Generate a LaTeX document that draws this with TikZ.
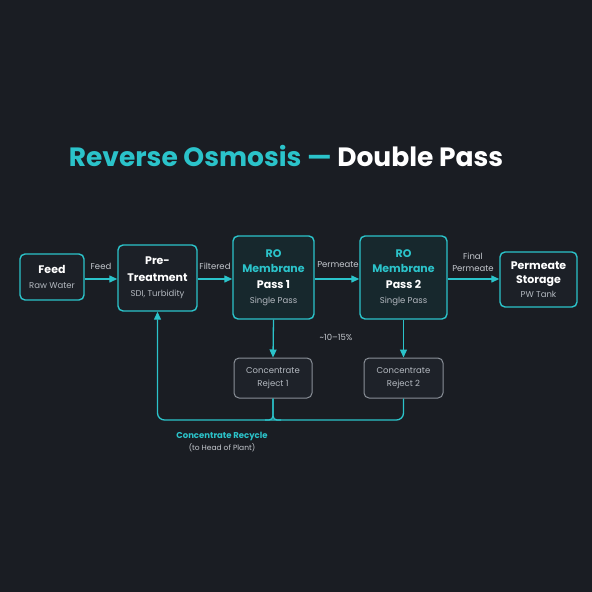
\documentclass[tikz,border=0pt]{standalone}
\usepackage{fontspec}
\setmainfont{Poppins}
\usetikzlibrary{arrows.meta,calc}
\definecolor{bg}{HTML}{1A1D23}
\definecolor{cy}{HTML}{2BC3CA}
\definecolor{boxfill}{HTML}{1C2027}
\definecolor{rofill}{HTML}{17282D}
\definecolor{rejfill}{HTML}{1E2229}
\definecolor{rejline}{HTML}{8A9098}
\definecolor{subt}{HTML}{B4B9C0}
\definecolor{lab}{HTML}{C4C8CE}
\tikzset{
  box/.style={draw=cy, line width=1.4pt, fill=boxfill, rounded corners=5pt, align=center, inner sep=0pt, font=\fontsize{11}{15}\selectfont},
  robox/.style={box, fill=rofill, font=\fontsize{11}{15.5}\selectfont},
  rejbox/.style={draw=rejline, line width=1pt, fill=rejfill, rounded corners=5pt, align=center, inner sep=0pt, text=subt, font=\fontsize{8.5}{13}\selectfont},
  flow/.style={draw=cy, line width=1.3pt, -{Triangle[length=8pt,width=7pt]}},
  line/.style={draw=cy, line width=1.3pt},
  elab/.style={text=lab, font=\fontsize{8.5}{12}\selectfont, inner sep=0pt, align=center},
}
\newcommand{\ttl}[1]{{\bfseries\color{white}#1}}
\newcommand{\cttl}[1]{{\bfseries\color{cy}#1}}
\newcommand{\sub}[1]{{\fontsize{8.5}{10}\selectfont\color{subt}#1}}
\begin{document}
\begin{tikzpicture}[x=1pt,y=-1pt]
\fill[bg] (0,0) rectangle (592,592);
\useasboundingbox (0,0) rectangle (592,592);
\node[font=\fontsize{26.5}{29}\selectfont\bfseries, inner sep=0pt] (title) at (286,156) {\color{cy}Reverse Osmosis~—~\color{white}Double Pass};
\node[box, minimum width=64pt, minimum height=46pt] (feed) at (52,277) {\ttl{Feed}\\\sub{Raw Water}};
\node[box, minimum width=79pt, minimum height=66pt] (pre) at (157.5,278) {\ttl{Pre-}\\[2pt]\ttl{Treatment}\\\sub{SDI, Turbidity}};
\node[robox, minimum width=81pt, minimum height=83pt] (ro1) at (273.5,277.5) {\cttl{RO}\\\cttl{Membrane}\\\ttl{Pass 1}\\\sub{Single Pass}};
\node[robox, minimum width=87pt, minimum height=83pt] (ro2) at (403.5,277.5) {\cttl{RO}\\\cttl{Membrane}\\\ttl{Pass 2}\\\sub{Single Pass}};
\node[box, minimum width=77pt, minimum height=55pt, font=\fontsize{11}{14}\selectfont] (st) at (538.5,279.5) {\ttl{Permeate}\\\ttl{Storage}\\\sub{PW Tank}};
\node[rejbox, minimum width=78pt, minimum height=40pt] (rj1) at (273,378) {Concentrate\\Reject 1};
\node[rejbox, minimum width=79pt, minimum height=40pt] (rj2) at (403.5,378) {Concentrate\\Reject 2};
\draw[flow] (feed.east |- 0,279) -- (pre.west |- 0,279);
\draw[flow] (pre.east |- 0,279) -- (ro1.west |- 0,279);
\draw[flow] (ro1.east |- 0,279) -- (ro2.west |- 0,279);
\draw[flow] (ro2.east |- 0,279) -- (st.west |- 0,279);
\node[elab] (lf) at (101,266) {Feed};
\node[elab] (lfi) at (215,266) {Filtered};
\node[elab] (lp) at (338,265) {Permeate};
\node[elab] (lfp) at (473,262) {Final\\Permeate};
\draw[flow] (ro1.south) -- (rj1.north);
\draw[flow] (ro2.south) -- (rj2.north);
\node[elab] (pct) at (336,337) {\textasciitilde10–15\%};
\coordinate (rc) at (157.5,420);
\draw[flow, rounded corners=7pt] (rj2.south) |- (rc) -- (pre.south);
\draw[line, rounded corners=4pt] (rj1.south) |- ($(rj1.south |- rc)+(-8,0)$);
\draw[line, rounded corners=4pt] (rj1.south) |- ($(rj1.south |- rc)+(8,0)$);
\node[font=\fontsize{8.5}{11}\selectfont\bfseries, text=cy, inner sep=0pt] (cr) at (222,436) {Concentrate Recycle};
\node[elab, font=\fontsize{7.5}{10}\selectfont] (hp) at (222,448) {(to Head of Plant)};
\end{tikzpicture}
\end{document}
